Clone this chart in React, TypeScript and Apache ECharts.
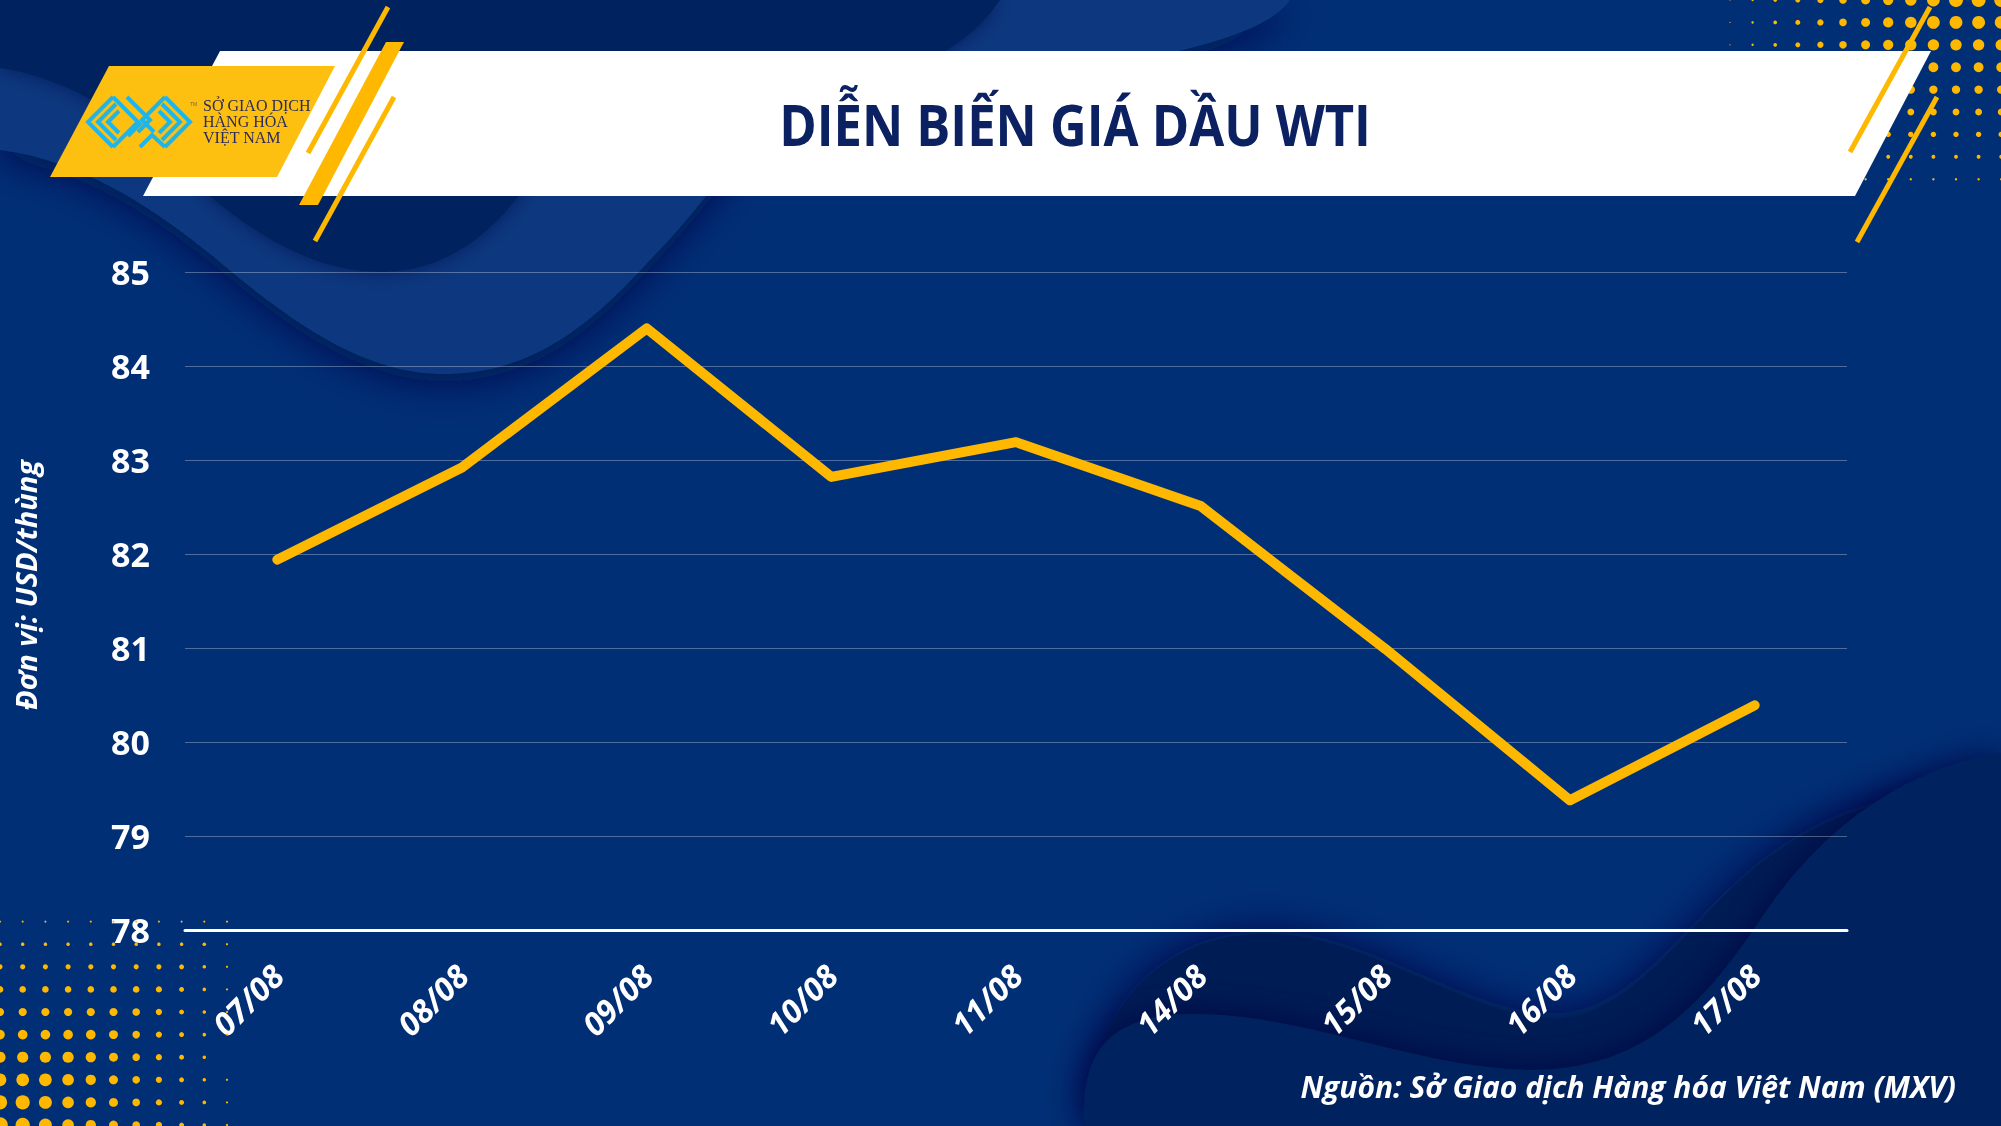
import React, { useEffect, useRef } from "react";
import * as echarts from "echarts";

const categories = ["07/08", "08/08", "09/08", "10/08", "11/08", "14/08", "15/08", "16/08", "17/08"];
const prices = [81.94, 82.92, 84.4, 82.82, 83.19, 82.51, 80.99, 79.38, 80.39];
const yTicks = [78, 79, 80, 81, 82, 83, 84, 85];
const titleText = "DIỄN BIẾN GIÁ DẦU WTI";
const unitText = "Đơn vị: USD/thùng";
const sourceText = "Nguồn: Sở Giao dịch Hàng hóa Việt Nam (MXV)";
const logoLines = ["SỞ GIAO DỊCH", "HÀNG HÓA", "VIỆT NAM"];

const YELLOW = "#FFB800";

let registered = false;
function registerShapes() {
  if (registered) return;
  registered = true;
  const shapes: Record<string, string> = {
    waveBand:
      "M0,0 L1290,0 C1250,60 1000,80 780,110 C730,160 700,210 650,260 C600,315 540,372 450,374 C370,376 300,330 215,258 C150,205 80,160 0,150 Z",
    waveTopDark:
      "M0,0 L1000,0 C980,30 950,55 900,70 L570,90 C545,180 480,270 385,272 C300,274 225,215 160,150 C110,105 60,78 0,68 Z",
    waveBrBand:
      "M1090,1126 C1082,1040 1140,940 1256,934 C1360,928 1470,1020 1556,1019 C1640,1018 1700,900 1780,850 C1850,800 1930,790 2001,796 L2001,1126 Z",
    waveBrLow:
      "M1084,1126 C1082,1060 1100,1016 1190,1014 C1300,1012 1420,1069 1530,1070 C1640,1070 1700,1010 1760,920 C1820,830 1900,770 2001,753 L2001,1126 Z",
  };
  Object.keys(shapes).forEach((k) => {
    echarts.graphic.registerShape(k, echarts.graphic.extendPath(shapes[k], {}));
  });
}

function dots(): any[] {
  const out: any[] = [];
  // top-right halftone
  for (let k = 0; k < 10; k++) {
    const y = k * 22.4;
    for (let j = 0; j < 13; j++) {
      const x = 1730 + j * 22.6;
      const r = Math.min((x - 1710) / 35, (215 - y) / 30, 7);
      if (r < 0.4) continue;
      out.push({ type: "circle", z: 2, shape: { cx: x, cy: y, r }, style: { fill: YELLOW }, silent: true });
    }
  }
  // bottom-left halftone
  for (let k = 0; k < 11; k++) {
    const y = 899 + k * 22.6;
    for (let j = 0; j < 12; j++) {
      const x = j * 22.7;
      const r = Math.min((265 - x) / 34, (y - 890) / 30, 8);
      if (r < 0.4) continue;
      out.push({ type: "circle", z: 2, shape: { cx: x, cy: y, r }, style: { fill: YELLOW }, silent: true });
    }
  }
  return out;
}

function logoIcon(): any[] {
  const c = "#1DB5EA";
  const lw = 4;
  const els: any[] = [];
  const cy = 122;
  const st = { stroke: c, lineWidth: lw, fill: null };
  // left nested chevrons
  [[88, 25], [98, 18], [108, 11]].forEach(([ax, h]) => {
    els.push({ type: "polyline", z: 5, shape: { points: [[ax + h, cy - h], [ax, cy], [ax + h, cy + h]] }, style: st });
  });
  // right nested chevrons
  [[190, 25], [180, 18], [170, 11]].forEach(([ax, h]) => {
    els.push({ type: "polyline", z: 5, shape: { points: [[ax - h, cy - h], [ax, cy], [ax - h, cy + h]] }, style: st });
  });
  // middle maze strokes
  els.push({ type: "polyline", z: 5, shape: { points: [[113, 97], [140, 124], [128, 136]] }, style: st });
  els.push({ type: "polyline", z: 5, shape: { points: [[127, 97], [150, 120], [138, 132]] }, style: st });
  els.push({ type: "polyline", z: 5, shape: { points: [[165, 97], [142, 120], [154, 132]] }, style: st });
  els.push({ type: "polyline", z: 5, shape: { points: [[113, 147], [139, 121]] }, style: st });
  els.push({ type: "polyline", z: 5, shape: { points: [[140, 147], [152, 135], [165, 147]] }, style: st });
  return els;
}

export default function App() {
  const ref = useRef<HTMLDivElement>(null);
  useEffect(() => {
    if (!ref.current) return;
    registerShapes();
    const chart = echarts.init(ref.current, null, { renderer: "svg", width: 2001, height: 1126 });

    const graphics: any[] = [
      { type: "rect", z: -10, shape: { x: 0, y: 0, width: 2001, height: 1126 }, style: { fill: "#012f76" }, silent: true },
      { type: "waveBand", z: -9, style: { fill: "#08397f", shadowBlur: 40, shadowColor: "rgba(0,12,70,0.85)", shadowOffsetY: 8 }, silent: true },
      { type: "waveTopDark", z: -8, style: { fill: "#01245f", shadowBlur: 20, shadowColor: "rgba(0,10,60,0.5)" }, silent: true },
      { type: "waveBrBand", z: -7, style: { fill: "#011a55", shadowBlur: 40, shadowColor: "rgba(0,8,70,0.9)", shadowOffsetY: -4 }, silent: true },
      { type: "waveBrLow", z: -6, style: { fill: "#02235f", shadowBlur: 36, shadowColor: "rgba(0,6,60,0.8)" }, silent: true },
      ...dots(),
      // banner
      { type: "polygon", z: 3, shape: { points: [[220, 51], [1931, 51], [1855, 196], [143, 196]] }, style: { fill: "#ffffff" }, silent: true },
      // logo block
      { type: "polygon", z: 4, shape: { points: [[109, 66], [335, 66], [277, 177], [50, 177]] }, style: { fill: "#FDC010" }, silent: true },
      ...logoIcon(),
      { type: "text", z: 5, x: 190, y: 101, style: { text: "TM", fill: "#7a6a3a", fontSize: 5, fontFamily: "Liberation Sans" } },
      ...logoLines.map((t, i) => ({
        type: "text",
        z: 5,
        x: 203,
        y: 113 + i * 16,
        style: { text: t, fill: "#2d2a5c", fontSize: 16, fontFamily: "Liberation Sans Narrow", verticalAlign: "bottom", align: "left" },
      })),
      // yellow stripes left
      { type: "line", z: 6, shape: { x1: 388, y1: 7, x2: 308, y2: 153 }, style: { stroke: YELLOW, lineWidth: 5 } },
      { type: "polygon", z: 6, shape: { points: [[386, 42], [404, 42], [318, 205], [299, 205]] }, style: { fill: YELLOW } },
      { type: "line", z: 6, shape: { x1: 394, y1: 97, x2: 315, y2: 241 }, style: { stroke: YELLOW, lineWidth: 5 } },
      // yellow stripes right
      { type: "line", z: 6, shape: { x1: 1930, y1: 7, x2: 1850, y2: 152 }, style: { stroke: YELLOW, lineWidth: 5 } },
      { type: "line", z: 6, shape: { x1: 1937, y1: 97, x2: 1857, y2: 242 }, style: { stroke: YELLOW, lineWidth: 5 } },
      // title
      {
        type: "text",
        z: 7,
        x: 1075,
        y: 124,
        scaleX: 0.89,
        style: { text: titleText, fill: "#0b2162", fontSize: 57, fontWeight: "bold", fontFamily: "Open Sans", align: "center", verticalAlign: "middle" },
      },
      // unit
      {
        type: "text",
        z: 7,
        x: 25,
        y: 585,
        rotation: Math.PI / 2,
        style: { text: unitText, fill: "#ffffff", fontSize: 29, fontWeight: "bold", fontStyle: "italic", fontFamily: "Open Sans", align: "center", verticalAlign: "middle" },
      },
      // source
      {
        type: "text",
        z: 7,
        x: 1956,
        y: 1086,
        style: { text: sourceText, fill: "#ffffff", fontSize: 30, fontWeight: "bold", fontStyle: "italic", fontFamily: "Open Sans", align: "right", verticalAlign: "middle" },
      },
    ];

    chart.setOption({
      animation: false,
      backgroundColor: "transparent",
      graphic: { elements: graphics },
      grid: { left: 185, right: 154, top: 272, bottom: 196, containLabel: false },
      xAxis: {
        type: "category",
        data: categories,
        boundaryGap: true,
        axisTick: { show: false },
        axisLine: { show: true, lineStyle: { color: "#ffffff", width: 3 } },
        axisLabel: {
          rotate: 45,
          margin: 40,
          color: "#ffffff",
          fontSize: 32,
          fontWeight: "bold",
          fontStyle: "italic",
          fontFamily: "Open Sans",
        },
      },
      yAxis: {
        type: "value",
        min: yTicks[0],
        max: yTicks[yTicks.length - 1],
        interval: 1,
        axisLine: { show: false },
        axisTick: { show: false },
        splitLine: { show: true, lineStyle: { color: "rgba(255,255,255,0.3)", width: 1 } },
        axisLabel: {
          margin: 35,
          color: "#ffffff",
          fontSize: 34,
          fontWeight: "bold",
          fontFamily: "Open Sans",
        },
      },
      series: [
        {
          type: "line",
          data: prices,
          showSymbol: false,
          symbol: "none",
          z: 10,
          lineStyle: { color: YELLOW, width: 10, cap: "round", join: "round" },
        },
      ],
    });
    return () => chart.dispose();
  }, []);
  return (
    <div
      ref={ref}
      style={{ position: "fixed", left: 0, top: 0, width: 2001, height: 1126, overflow: "hidden" }}
    />
  );
}
